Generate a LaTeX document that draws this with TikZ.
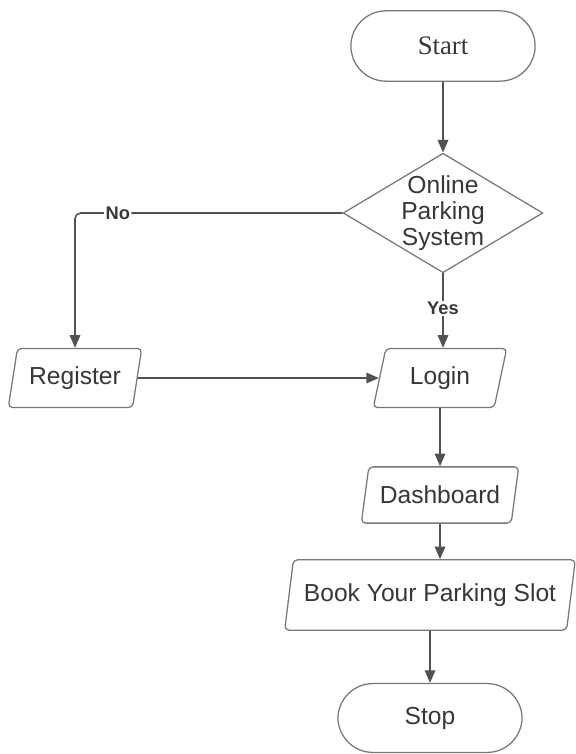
\documentclass[tikz,border=0pt]{standalone}
\usepackage{fontspec}
\setmainfont{Liberation Sans}
\newfontfamily\serifstart{Liberation Serif}
\usetikzlibrary{shapes.geometric,arrows.meta,positioning}
\definecolor{boxgray}{RGB}{120,120,120}
\definecolor{linegray}{RGB}{80,80,85}
\definecolor{txtgray}{RGB}{55,55,55}

\begin{document}
\begin{tikzpicture}[x=0.025cm, y=-0.025cm,
    every node/.style={text=txtgray, font=\fontsize{17.5}{18.5}\selectfont},
    terminal/.style={draw=boxgray, line width=0.9pt, rectangle, rounded corners=25pt, minimum width=131pt, minimum height=50pt},
    iobox/.style={draw=boxgray, line width=0.9pt, trapezium, trapezium left angle=76, trapezium right angle=104, trapezium stretches=true, rounded corners=3pt, minimum height=42pt},
    decision/.style={draw=boxgray, line width=0.9pt, diamond, aspect=1.67, inner sep=-4pt, minimum width=142pt, minimum height=85pt, align=center},
    flow/.style={draw=linegray, line width=1.1pt, -{Triangle[length=9pt,width=7.5pt]}},
    lbl/.style={fill=white, inner sep=1pt, font=\fontsize{13}{13}\selectfont\bfseries}]
    \useasboundingbox (0,0) rectangle (576,754);

    \node[terminal, font=\serifstart\fontsize{19}{19}\selectfont] (start) at (443,46) {Start};
    \node[decision] (online) at (443,213) {Online\\Parking\\System};
    \node[iobox, minimum width=95pt] (register) at (75,378) {Register};
    \node[iobox, minimum width=95pt] (login) at (440,378) {Login};
    \node[iobox, minimum width=112pt, minimum height=40pt] (dashboard) at (440,495) {Dashboard};
    \node[iobox, minimum width=207pt, minimum height=50pt, inner xsep=0pt] (book) at (430,595) {Book Your Parking Slot};
    \node[terminal, minimum height=49pt] (stop) at (430,718) {Stop};

    \draw[flow] (start) -- (online);
    \draw[flow, rounded corners=4pt] (online.west) -| node[lbl, pos=0.42] {No} (register.north);
    \draw[flow] (online.south) -- node[lbl, pos=0.47] {Yes} (online.south |- login.north);
    \draw[flow] (register) -- (login);
    \draw[flow] (login.south) -- (dashboard.north);
    \draw[flow] (dashboard.south) -- (dashboard.south |- book.north);
    \draw[flow] (book.south) -- (book.south |- stop.north);
\end{tikzpicture}
\end{document}
